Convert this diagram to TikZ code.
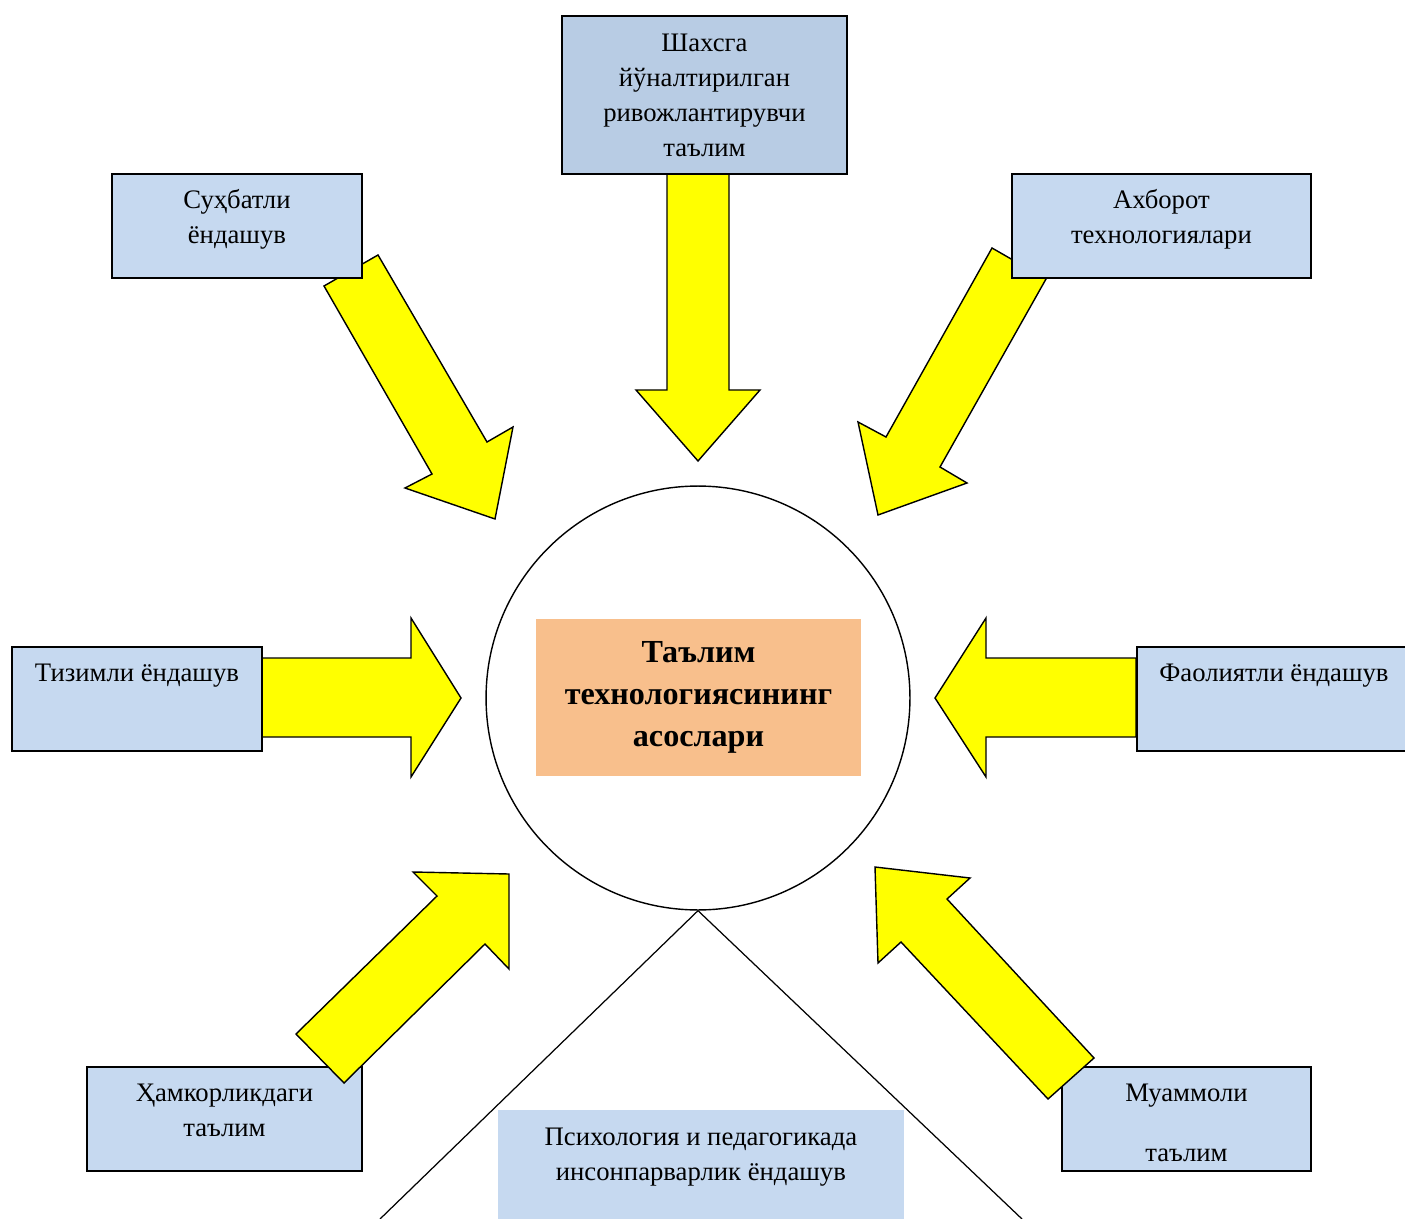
\documentclass[tikz,border=0pt]{standalone}
\usepackage{fontspec}
\setmainfont{Liberation Serif}
\usetikzlibrary{positioning,calc}

\definecolor{boxblue}{HTML}{C6D9F0}
\definecolor{topblue}{HTML}{B8CCE4}
\definecolor{peach}{HTML}{F8BF8C}
\definecolor{fatyellow}{HTML}{FFFF00}

\tikzset{
  box/.style={draw, line width=1.1pt, fill=boxblue, anchor=north west, align=center,
    inner xsep=0pt, inner ysep=0pt, text height=1.40cm, text depth=0.68cm},
  fatarrow/.style={draw, line width=0.8pt, fill=fatyellow, line join=miter},
}

\begin{document}
\begin{tikzpicture}[x=0.02cm, y=-0.02cm, font=\fontsize{15.2}{20}\selectfont]
    \useasboundingbox (0,0) rectangle (1405,1219);
    % yellow block arrows (upper ones sit under the boxes)
    \draw[fatarrow] (698,461) -- (636,390) -- (667,390) -- (667,173) -- (729,173) -- (729,390) -- (760,390) -- cycle;
    \draw[fatarrow] (495,519) -- (405,488) -- (432,474) -- (324,286) -- (378,255) -- (487,442) -- (513,427) -- cycle;
    \draw[fatarrow] (878,515) -- (858,422) -- (886,437) -- (992,248) -- (1046,279) -- (940,467) -- (967,483) -- cycle;
    \draw[fatarrow] (461,698) -- (411,618) -- (411,658) -- (261,658) -- (261,737) -- (411,737) -- (411,777) -- cycle;
    \draw[fatarrow] (935,698) -- (986,618) -- (986,658) -- (1136,658) -- (1136,737) -- (986,737) -- (986,777) -- cycle;
    % centre
    \node[draw, circle, line width=0.8pt, minimum size=8.48cm, inner sep=0pt] (ring) at (698,698) {};
    \node[fill=peach, minimum width=6.5cm, minimum height=3.14cm, align=center,
      font=\fontsize{18.3}{24}\selectfont\bfseries] (core) at (698.5,697.5) {Таълим\\технологиясининг\\асослари};
    \coordinate (lbot) at (380,1219);
    \coordinate (rbot) at (1022,1219);
    \draw[line width=0.7pt] (lbot) -- (ring.south) -- (rbot);
    % approach boxes
    \node[box, fill=topblue, minimum width=5.7cm, text height=2.82cm, text depth=0.34cm] (pers) at (561,15) {Шахсга\\йўналтирилган\\ривожлантирувчи\\таълим};
    \foreach \name/\x/\y/\bw/\tht/\txt in {dial/111/173/5.0/1.40/{Суҳбатли\\ёндашув}, info/1011/173/5.98/1.40/{Ахборот\\технологиялари},
        syst/11/646/5.0/0.70/{Тизимли ёндашув}, actv/1136/646/5.48/0.70/{Фаолиятли ёндашув},
        coop/86/1066/5.5/1.40/{Ҳамкорликдаги\\таълим}, prob/1061/1066/4.98/1.90/{Муаммоли\\[14.5pt]таълим}}
      {\node[box, minimum width=\bw cm, text height=\tht cm, text depth={(2.08-\tht)*1cm}] (\name) at (\x,\y) {\txt};}
    \node[box, draw=none, minimum width=8.12cm, text height=1.42cm, text depth=1.2cm] (hum) at (497,1109) {Психология и педагогикада\\инсонпарварлик ёндашув};
    % lower arrows lie over their boxes
    \draw[fatarrow] (509,874) -- (413,872) -- (437,896) -- (296,1034) -- (344,1083) -- (485,944) -- (509,969) -- cycle;
    \draw[fatarrow] (875,867) -- (970,878) -- (947,899) -- (1094,1058) -- (1048,1099) -- (901,942) -- (878,963) -- cycle;
\end{tikzpicture}
\end{document}
